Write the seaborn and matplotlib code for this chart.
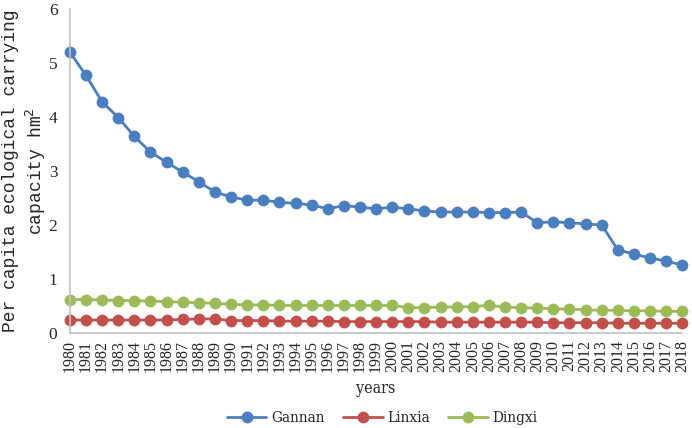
import pandas as pd
import matplotlib
matplotlib.use("Agg")
import matplotlib.pyplot as plt
import seaborn as sns

years = list(range(1980, 2019))

gannan = [5.20, 4.77, 4.28, 3.99, 3.64, 3.35, 3.16, 2.98, 2.80, 2.61,
          2.52, 2.46, 2.46, 2.42, 2.40, 2.37, 2.30, 2.36, 2.33, 2.30,
          2.33, 2.30, 2.26, 2.24, 2.24, 2.24, 2.23, 2.23, 2.24, 2.04,
          2.06, 2.04, 2.02, 2.00, 1.54, 1.46, 1.39, 1.33, 1.26]
linxia = [0.24, 0.24, 0.24, 0.24, 0.24, 0.24, 0.24, 0.25, 0.26, 0.26,
          0.23, 0.23, 0.23, 0.22, 0.22, 0.22, 0.22, 0.21, 0.21, 0.21,
          0.21, 0.21, 0.21, 0.20, 0.20, 0.20, 0.20, 0.20, 0.20, 0.20,
          0.19, 0.19, 0.19, 0.19, 0.18, 0.18, 0.18, 0.18, 0.18]
dingxi = [0.62, 0.62, 0.61, 0.60, 0.60, 0.59, 0.58, 0.57, 0.56, 0.55,
          0.53, 0.52, 0.52, 0.51, 0.51, 0.51, 0.51, 0.51, 0.51, 0.51,
          0.51, 0.47, 0.47, 0.48, 0.48, 0.49, 0.51, 0.48, 0.47, 0.46,
          0.45, 0.44, 0.43, 0.42, 0.42, 0.41, 0.41, 0.40, 0.40]

regions = ["Gannan", "Linxia", "Dingxi"]
colors = ["#4a7ebf", "#c24f4c", "#9bbb59"]

df = pd.DataFrame({
    "year": years * 3,
    "value": gannan + linxia + dingxi,
    "region": sum([[r] * len(years) for r in regions], []),
})

sns.set_style("white")
plt.rcParams["font.family"] = ["Liberation Serif", "DejaVu Serif"]

fig = plt.figure(figsize=(6.92, 4.28), dpi=100)
ax = fig.add_axes([0.101, 0.222, 0.885, 0.757])

sns.lineplot(data=df, x="year", y="value", hue="region", palette=colors,
             marker="o", markersize=8.5, markeredgewidth=0, linewidth=2,
             ax=ax, clip_on=False)

ax.set_xlim(1980, 2018)
ax.set_ylim(0, 6)
ax.set_yticks(range(0, 7))
ax.set_xticks(years)
ax.set_xticklabels([str(y) for y in years], rotation=90, fontsize=11.5)
ax.tick_params(axis="y", labelsize=12.5, length=0, pad=9)
ax.tick_params(axis="x", length=0, pad=5)

for s in ["top", "right"]:
    ax.spines[s].set_visible(False)
for s in ["left", "bottom"]:
    ax.spines[s].set_color("#c0c0c0")
    ax.spines[s].set_linewidth(1.2)

serif = ["DejaVu Serif"]
mono = ["Liberation Mono", "DejaVu Sans Mono"]
ax.set_xlabel("years", family=serif, fontsize=11.5, fontstretch="condensed")
ax.xaxis.set_label_coords(0.5, -0.145)
ax.set_ylabel("Per capita ecological carrying\ncapacity hm$^2$", family=mono,
              fontsize=13, linespacing=1.25)
ax.yaxis.set_label_coords(-0.036, 0.5)

ax.legend(title=None, loc="center", bbox_to_anchor=(0.51, -0.262),
          ncol=3, frameon=False,
          prop={"family": serif, "size": 11, "stretch": "condensed"},
          handlelength=2.6, columnspacing=1.2, handletextpad=0.3,
          borderaxespad=0)

fig.savefig("out.png", dpi=100)
